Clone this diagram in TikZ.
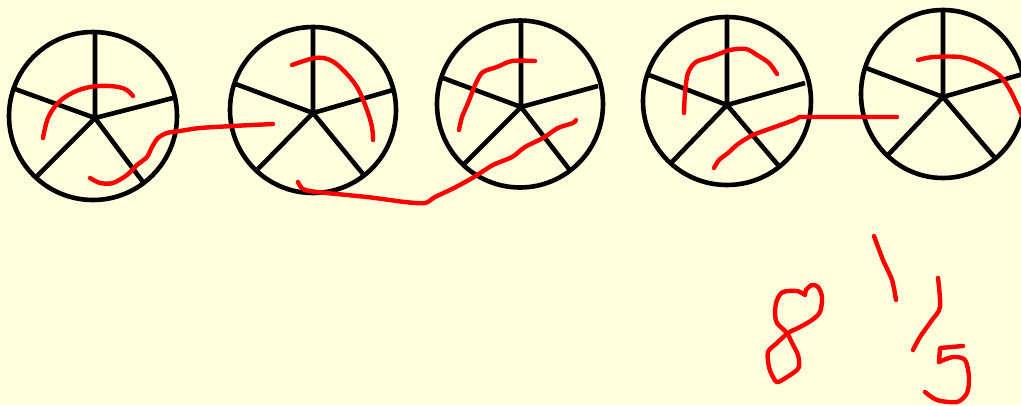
\documentclass[tikz,border=0pt]{standalone}
\usepackage{tikz}
\usetikzlibrary{calc}

\definecolor{paper}{RGB}{255,255,221}

\begin{document}
\begin{tikzpicture}[x=1pt, y=-1pt,
  rim/.style={draw=black, line width=4.6pt},
  spoke/.style={black, line width=4.6pt},
  ink/.style={red, line width=4.4pt, line cap=round, line join=round}]
\fill[paper] (0,0) rectangle (1021,405);
\useasboundingbox (0,0) rectangle (1021,405);
\clip (0,0) rectangle (1021,405);

% wheels: hub, then the five spoke ends
\coordinate (hubA) at (95,118);
\coordinate (hubB) at (313,113);
\coordinate (hubC) at (521,107);
\coordinate (hubD) at (727,105);
\coordinate (hubE) at (943,97);

\draw[rim] (93,116) ellipse [x radius=84, y radius=84];
\draw[spoke] (hubA) -- (95,32) (hubA) -- (15,89) (hubA) -- (173,98) (hubA) -- (37,176) (hubA) -- (143,182);

\draw[rim] (313,110) ellipse [x radius=83, y radius=83];
\draw[spoke] (hubB) -- (313,26) (hubB) -- (233,83) (hubB) -- (393,90) (hubB) -- (257,170) (hubB) -- (363,174);

\draw[rim] (520,104) ellipse [x radius=83, y radius=83.5];
\draw[spoke] (hubC) -- (521,21) (hubC) -- (443,78) (hubC) -- (598,86) (hubC) -- (463,165) (hubC) -- (569,169);

\draw[rim] (727,101) ellipse [x radius=84, y radius=84];
\draw[spoke] (hubD) -- (727,17) (hubD) -- (649,75) (hubD) -- (805,83) (hubD) -- (671,163) (hubD) -- (778,165);

\draw[rim] (943,94) ellipse [x radius=82, y radius=84];
\draw[spoke] (hubE) -- (943,10) (hubE) -- (866,68) (hubE) -- (1030,72) (hubE) -- (887,156) (hubE) -- (995,158);

% red arcs inside the wheels
\draw[ink] plot[smooth, tension=0.6] coordinates {(43,138) (48,118) (58,103) (72,93) (90,87) (110,86) (125,89) (133,96)};
\draw[ink] plot[smooth, tension=0.6] coordinates {(292,65) (315,58) (330,60) (343,70) (357,87) (367,110) (372,127) (373,140)};
\draw[ink] plot[smooth, tension=0.5] coordinates {(459,130) (462,117) (468,103) (476,83) (483,72) (497,67) (512,61) (535,61)};
\draw[ink] plot[smooth, tension=0.5] coordinates {(684,113) (685,93) (688,73) (696,62) (711,57) (730,50) (746,49) (757,55) (769,63) (777,74)};
\draw[ink] plot[smooth, tension=0.5] coordinates {(918,60) (933,57) (960,57) (979,63) (999,75) (1010,90) (1021,113) (1026,125)};

% red links between the wheels
\draw[ink] plot[smooth, tension=0.5] coordinates {(90,178) (100,183) (113,183) (127,175) (137,165) (147,157) (152,147) (158,138) (167,133) (180,131) (200,128) (233,126) (273,124)};
\draw[ink] plot[smooth, tension=0.5] coordinates {(298,182) (303,189) (317,192) (367,197) (405,202) (425,203) (435,197) (454,188) (474,177) (493,165) (512,157) (525,147) (543,138) (558,128) (573,123) (576,120)};
\draw[ink] plot[smooth, tension=0.5] coordinates {(714,168) (719,160) (728,153) (738,144) (753,135) (772,128) (794,120) (799,117)} -- (897,117);

% handwritten 8 1/5
\draw[ink] plot[smooth, tension=0.5] coordinates {(805,295) (797,291) (783,292) (777,300) (775,312) (777,323) (787,333) (792,343) (798,355) (799,367) (793,373) (778,382) (773,377) (769,367) (768,352) (777,343) (788,333) (800,327) (812,320) (820,312) (822,297) (818,287) (812,285) (806,290) (805,295)};
\draw[ink] plot[smooth, tension=0.5] coordinates {(874,236) (883,260) (892,280) (896,300)};
\draw[ink] plot[smooth, tension=0.5] coordinates {(938,278) (940,307) (932,320) (920,337) (913,350)};
\draw[ink] (963,346) -- (940,348) -- (939,362);
\draw[ink] plot[smooth, tension=0.5] coordinates {(939,362) (953,357) (965,360) (969,377) (967,393) (957,402) (937,400) (925,392)};
\end{tikzpicture}
\end{document}
